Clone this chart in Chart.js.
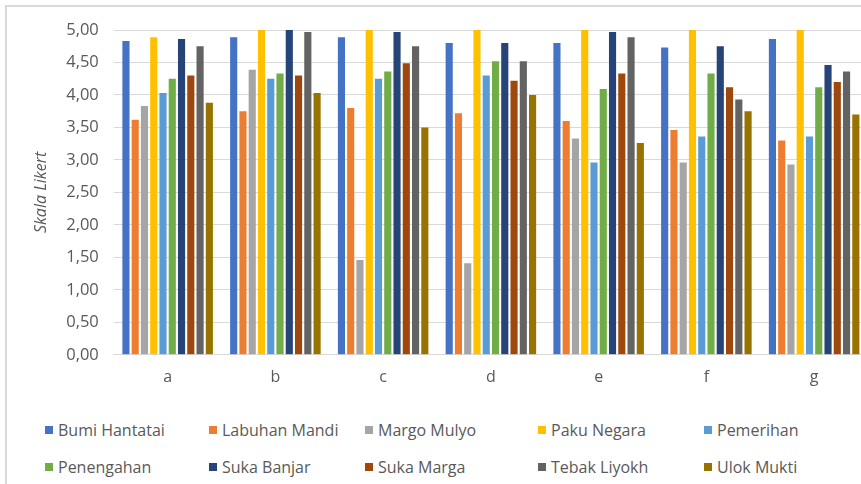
<!DOCTYPE html>
<html>
<head>
<meta charset="utf-8">
<script src="https://cdn.jsdelivr.net/npm/chart.js@4"></script>
<style>
  body { margin: 0; background: #fff; overflow: hidden; font-family: "Open Sans", "Noto Sans", sans-serif; }
  .frame { position: absolute; left: 5px; top: 5px; width: 900px; height: 500px; border-left: 2px solid #d9d9d9; border-top: 2px solid #d9d9d9; }
  .chartBox { position: absolute; left: 0; top: 0; width: 868px; height: 392px; }
  .legend { position: absolute; left: 45px; top: 420px; display: grid; grid-template-columns: 164px 156px 173px 166px 150px; row-gap: 18px; }
  .legend span { display: flex; align-items: center; font-size: 16px; color: #595959; height: 19px; white-space: nowrap; }
  .legend i { display: inline-block; width: 8px; height: 8px; margin-right: 5px; }
</style>
</head>
<body>
<div class="frame"></div>
<div class="chartBox"><canvas id="bar-chart"></canvas></div>
<div class="legend" id="legend"></div>
<script>
const categories = ['a', 'b', 'c', 'd', 'e', 'f', 'g'];
const yTicks = [0, 0.5, 1, 1.5, 2, 2.5, 3, 3.5, 4, 4.5, 5];

const bumiHantatai = [4.83, 4.89, 4.89, 4.80, 4.80, 4.73, 4.86];
const labuhanMandi = [3.62, 3.75, 3.80, 3.72, 3.60, 3.46, 3.30];
const margoMulyo   = [3.83, 4.39, 1.46, 1.41, 3.33, 2.96, 2.93];
const pakuNegara   = [4.89, 5.00, 5.00, 5.00, 5.00, 5.00, 5.00];
const pemerihan    = [4.03, 4.25, 4.25, 4.30, 2.96, 3.36, 3.36];
const penengahan   = [4.25, 4.33, 4.36, 4.52, 4.09, 4.33, 4.12];
const sukaBanjar   = [4.86, 5.00, 4.97, 4.80, 4.97, 4.75, 4.46];
const sukaMarga    = [4.30, 4.30, 4.49, 4.22, 4.33, 4.12, 4.20];
const tebakLiyokh  = [4.75, 4.97, 4.75, 4.52, 4.89, 3.93, 4.36];
const ulokMukti    = [3.88, 4.03, 3.50, 4.00, 3.26, 3.75, 3.70];

const series = [
  { label: 'Bumi Hantatai', data: bumiHantatai, color: '#4472c4' },
  { label: 'Labuhan Mandi', data: labuhanMandi, color: '#ed7d31' },
  { label: 'Margo Mulyo', data: margoMulyo, color: '#a5a5a5' },
  { label: 'Paku Negara', data: pakuNegara, color: '#ffc000' },
  { label: 'Pemerihan', data: pemerihan, color: '#5b9bd5' },
  { label: 'Penengahan', data: penengahan, color: '#70ad47' },
  { label: 'Suka Banjar', data: sukaBanjar, color: '#264478' },
  { label: 'Suka Marga', data: sukaMarga, color: '#9e480e' },
  { label: 'Tebak Liyokh', data: tebakLiyokh, color: '#636363' },
  { label: 'Ulok Mukti', data: ulokMukti, color: '#997300' },
];

const ctx = document.getElementById('bar-chart').getContext('2d');
new Chart(ctx, {
  type: 'bar',
  data: {
    labels: categories,
    datasets: series.map(s => ({
      label: s.label,
      data: s.data,
      backgroundColor: s.color,
      borderWidth: 0,
      categoryPercentage: 0.86,
      barPercentage: 0.77,
    })),
  },
  options: {
    responsive: true,
    maintainAspectRatio: false,
    animation: false,
    layout: { padding: { left: 32, top: 30, right: 0, bottom: 0 } },
    plugins: { legend: { display: false }, tooltip: { enabled: false } },
    scales: {
      x: {
        grid: { display: false },
        border: { color: '#d9d9d9', width: 1 },
        ticks: { color: '#595959', font: { size: 16, family: '"Open Sans", sans-serif' }, padding: 5 },
      },
      y: {
        min: 0,
        max: 5,
        afterBuildTicks: axis => { axis.ticks = yTicks.map(v => ({ value: v })); },
        grid: { color: '#d9d9d9', lineWidth: 1, drawTicks: false },
        border: { display: false },
        ticks: {
          color: '#595959',
          padding: 15,
          font: { size: 16.5, family: '"Open Sans", sans-serif' },
          callback: v => Number(v).toFixed(2).replace('.', ','),
        },
        title: {
          display: true,
          text: 'Skala Likert',
          color: '#595959',
          padding: { top: 0, bottom: 0 },
          font: { size: 16, style: 'italic', family: '"Open Sans", sans-serif' },
        },
      },
    },
  },
});

const legend = document.getElementById('legend');
series.forEach(s => {
  const item = document.createElement('span');
  item.innerHTML = '<i style="background:' + s.color + '"></i>' + s.label;
  legend.appendChild(item);
});
</script>
</body>
</html>
